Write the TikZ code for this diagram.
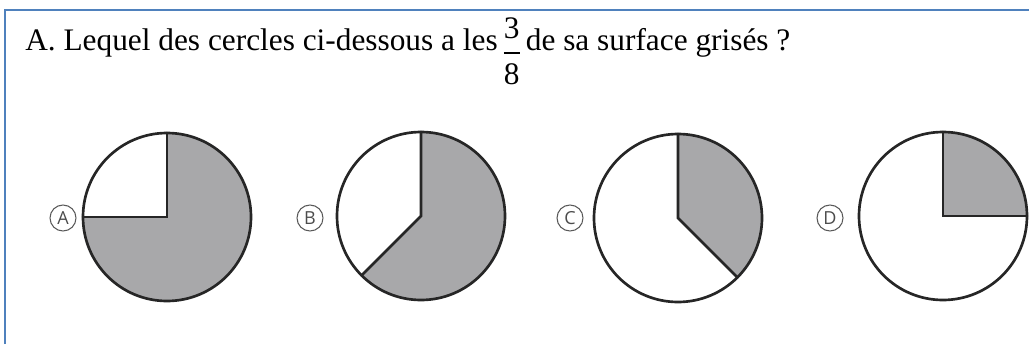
\documentclass[tikz,border=0pt]{standalone}
\usepackage{amsmath}
\usepackage{fontspec}
\setmainfont{Liberation Serif}
\newfontfamily\lettrefont{Open Sans}
\usetikzlibrary{positioning}
\definecolor{qblue}{HTML}{4F81BD}
\definecolor{qgris}{HTML}{A8A8AA}
\definecolor{qtrait}{HTML}{262626}
\tikzset{
  disque/.style={circle,draw=qtrait,line width=2pt,minimum size=126pt,inner sep=0pt},
  part/.style={fill=qgris},
  rayon/.style={draw=qtrait,line width=2pt,line cap=round},
  lettre/.style={circle,draw=black!65,line width=0.8pt,minimum size=19.5pt,inner sep=0pt,font=\lettrefont\fontsize{13.5}{13.5}\selectfont,text=black!70},
  cadre/.style={draw=qblue,line width=1.5pt},
}
\newcommand{\fracq}[2]{{\nulldelimiterspace=0pt\raisebox{-0.36em}{$\displaystyle\frac{\text{#1}}{\text{#2}}$}}}

\begin{document}
\begin{tikzpicture}[x=0.75pt,y=0.75pt]
  \useasboundingbox (0,0) rectangle (1029,344);
  \draw[cadre] (5,0) -- (5,334) -- (1029,334);
  \node[anchor=base west,inner sep=0pt,font=\fontsize{23.5}{28}\selectfont] (titre) at (25,294)
    {A. Lequel des cercles ci-dessous a les\hspace{0.2em}\fracq{3}{8}\hspace{0.2em}de sa surface grisés~?};
  % disques et secteurs gris
  \foreach \nom/\x/\y/\a/\b/\lx in {A/167/127/180/450/63, B/421/128/-135/90/310, C/678/126/-45/90/570, D/943/128/0/90/830}{
    \coordinate (c\nom) at (\x,\y);
    \fill[part] (c\nom) -- ++(\a:63pt) arc[start angle=\a,end angle=\b,radius=63pt] -- cycle;
    \draw[rayon] (c\nom) ++(\a:63pt) -- (c\nom) -- ++(\b:63pt);
    \node[disque] (d\nom) at (c\nom) {};
    \node[lettre] (l\nom) at (\lx,126) {\nom};
  }
\end{tikzpicture}
\end{document}
